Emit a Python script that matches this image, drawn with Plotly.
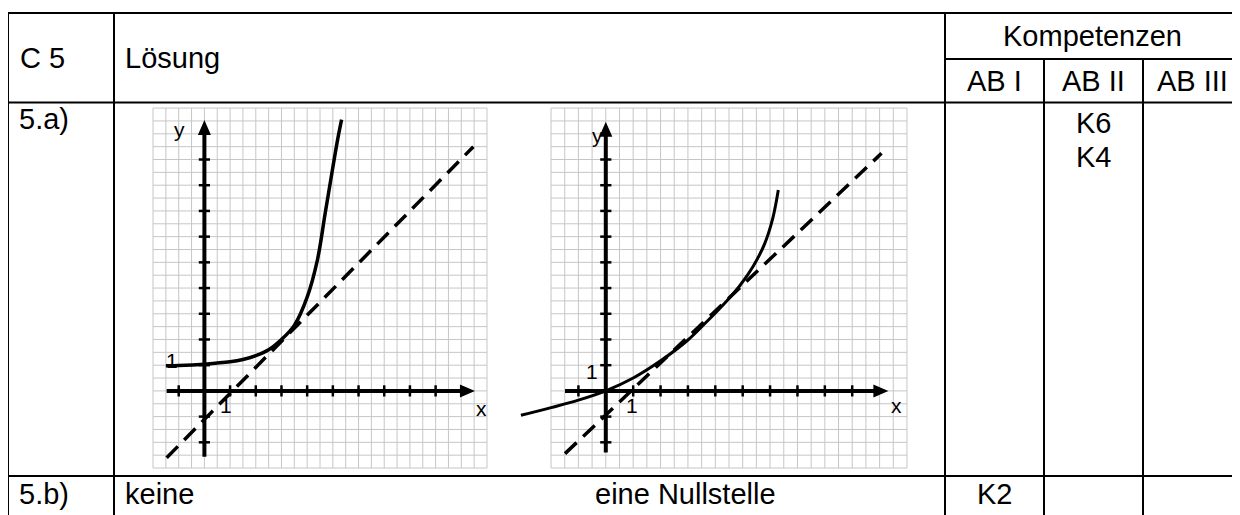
import numpy as np
import plotly.graph_objects as go

# the page places the figure 8 px from the top-left corner (default body margin)
OFF = 8
W, H = 1240 - OFF, 515 - OFF

# ---------------- data ----------------
# left panel: curve and dashed tangent line (units of the drawn coordinate system)
LEFT_CURVE_X = [-1.5, -1.0, 0.0, 1.0, 1.5, 2.0, 2.5, 3.0, 3.5, 4.0, 4.4, 4.7, 5.0, 5.2, 5.34]
LEFT_CURVE_Y = [0.98, 0.99, 1.04, 1.13, 1.22, 1.37, 1.60, 2.00, 2.55, 3.65, 5.10, 6.90, 8.70, 9.85, 10.55]
LEFT_LINE_X = [-1.47, 10.47]
LEFT_LINE_Y = [-2.60, 9.50]

# right panel
RIGHT_CURVE_X = [-3.1, -2.0, -1.0, 0.0, 1.0, 2.0, 3.0, 3.6, 4.4, 4.9, 5.4, 5.8, 6.1, 6.3]
RIGHT_CURVE_Y = [-0.95, -0.65, -0.36, 0.0, 0.50, 1.17, 1.98, 2.60, 3.48, 4.10, 4.88, 5.72, 6.72, 7.81]
RIGHT_LINE_X = [-1.49, 10.07]
RIGHT_LINE_Y = [-2.44, 9.24]

# axis extents (start, arrow tip) and tick positions
LEFT_XAXIS = [-1.47, 10.53]
LEFT_YAXIS = [-2.56, 10.54]
RIGHT_XAXIS = [-1.49, 10.32]
RIGHT_YAXIS = [-2.40, 10.47]
X_TICKS = [-1, 1, 2, 3, 4, 5, 6, 7, 8, 9]
Y_TICKS = [-2, -1, 1, 2, 3, 4, 5, 6, 7, 8, 9]

# grid extent (units) and spacing
GRID_X = [-2, 11]
GRID_Y = [-3, 11]
GRID_STEP = 0.5

# axis labels inside the panels: (text, x, y)
LEFT_LABELS = [("y", -0.95, 10.15), ("x", 10.79, -0.68), ("1", -1.27, 1.2), ("1", 0.84, -0.55)]
RIGHT_LABELS = [("y", -0.31, 9.95), ("x", 10.62, -0.55), ("1", -0.51, 0.75), ("1", 0.95, -0.55)]

# table texts: (text, x_px, y_px, anchor)
TABLE_TEXT = [
    ("C 5", 18, 58, "left"),
    ("Lösung", 123, 58, "left"),
    ("Kompetenzen", 1092, 36, "center"),
    ("AB I", 994, 81, "center"),
    ("AB II", 1093, 81, "center"),
    ("AB III", 1192, 81, "center"),
    ("5.a)", 17, 119, "left"),
    ("K6", 1093, 123, "center"),
    ("K4", 1093, 157, "center"),
    ("5.b)", 17, 494, "left"),
    ("keine", 123, 494, "left"),
    ("eine Nullstelle", 593, 494, "left"),
    ("K2", 994, 494, "center"),
]

# table rules in pixels: horizontal (y, x0, x1), vertical (x, y0, y1)
H_RULES = [(13, 8, 1240), (59, 945, 1240), (102.5, 8, 1240), (476, 8, 1240)]
V_RULES = [(8, 13, 515), (114, 13, 515), (945, 13, 515), (1044, 59, 515), (1143, 59, 515)]

# panel geometry: origin in px, px per unit, axis ranges
PANELS = {
    "left": dict(ox=204.4, oy=390.9, ux=25.69, uy=25.71, xr=(-2.2, 11.2), yr=(-3.2, 11.2), ax="x", ay="y"),
    "right": dict(ox=605.8, oy=390.9, ux=27.38, uy=25.71, xr=(-3.3, 11.2), yr=(-3.2, 11.2), ax="x2", ay="y2"),
}

FONT = "Liberation Sans, Arial, Helvetica, sans-serif"
GRID_COLOR = "#c6c6c6"

fig = go.Figure()
shapes = []
annotations = []


def px2paper_x(px):
    return (px - OFF) / W


def px2paper_y(py):
    return 1 - (py - OFF) / H


def add_panel(p, curve_x, curve_y, line_x, line_y, xaxis_ext, yaxis_ext, labels, curve_w):
    xa, ya = p["ax"], p["ay"]
    # grid lines
    gx, gy = [], []
    for v in np.arange(GRID_X[0], GRID_X[1] + 1e-9, GRID_STEP):
        gx += [v, v, None]
        gy += [GRID_Y[0], GRID_Y[1], None]
    for v in np.arange(GRID_Y[0], GRID_Y[1] + 1e-9, GRID_STEP):
        gx += [GRID_X[0], GRID_X[1], None]
        gy += [v, v, None]
    fig.add_trace(go.Scatter(x=gx, y=gy, mode="lines", line=dict(color=GRID_COLOR, width=1),
                             xaxis=xa, yaxis=ya, hoverinfo="skip", showlegend=False))
    # dashed line
    fig.add_trace(go.Scatter(x=line_x, y=line_y, mode="lines",
                             line=dict(color="black", width=3.5, dash="16px,9px"),
                             xaxis=xa, yaxis=ya, showlegend=False))
    # curve
    fig.add_trace(go.Scatter(x=curve_x, y=curve_y, mode="lines",
                             line=dict(color="black", width=curve_w, shape="spline", smoothing=1.0),
                             xaxis=xa, yaxis=ya, showlegend=False))
    # axes with arrowheads
    L, hw = 15.0, 6.5
    xbase = xaxis_ext[1] - L / p["ux"]
    ybase = yaxis_ext[1] - L / p["uy"]
    fig.add_trace(go.Scatter(x=[xaxis_ext[0], xbase + 0.05], y=[0, 0], mode="lines",
                             line=dict(color="black", width=4), xaxis=xa, yaxis=ya, showlegend=False))
    fig.add_trace(go.Scatter(x=[0, 0], y=[yaxis_ext[0], ybase + 0.05], mode="lines",
                             line=dict(color="black", width=4), xaxis=xa, yaxis=ya, showlegend=False))
    shapes.append(dict(type="path", xref=xa, yref=ya, fillcolor="black", line=dict(width=0),
                       path=f"M {xbase},{-hw / p['uy']} L {xbase},{hw / p['uy']} L {xaxis_ext[1]},0 Z"))
    shapes.append(dict(type="path", xref=xa, yref=ya, fillcolor="black", line=dict(width=0),
                       path=f"M {-hw / p['ux']},{ybase} L {hw / p['ux']},{ybase} L 0,{yaxis_ext[1]} Z"))
    # ticks
    fig.add_trace(go.Scatter(x=X_TICKS, y=[0] * len(X_TICKS), mode="markers",
                             marker=dict(symbol="line-ns", size=8, line=dict(color="black", width=2.5)),
                             xaxis=xa, yaxis=ya, showlegend=False, cliponaxis=False))
    fig.add_trace(go.Scatter(x=[0] * len(Y_TICKS), y=Y_TICKS, mode="markers",
                             marker=dict(symbol="line-ew", size=8, line=dict(color="black", width=2.5)),
                             xaxis=xa, yaxis=ya, showlegend=False, cliponaxis=False))
    for t, x, y in labels:
        annotations.append(dict(text=t, x=x, y=y, xref=xa, yref=ya, showarrow=False,
                                font=dict(family=FONT, size=21, color="black"),
                                xanchor="center", yanchor="middle"))


add_panel(PANELS["left"], LEFT_CURVE_X, LEFT_CURVE_Y, LEFT_LINE_X, LEFT_LINE_Y,
          LEFT_XAXIS, LEFT_YAXIS, LEFT_LABELS, 3.5)
add_panel(PANELS["right"], RIGHT_CURVE_X, RIGHT_CURVE_Y, RIGHT_LINE_X, RIGHT_LINE_Y,
          RIGHT_XAXIS, RIGHT_YAXIS, RIGHT_LABELS, 3.0)

axis_layout = {}
for name, p in PANELS.items():
    x0 = p["ox"] + p["xr"][0] * p["ux"]
    x1 = p["ox"] + p["xr"][1] * p["ux"]
    ytop = p["oy"] - p["yr"][1] * p["uy"]
    ybot = p["oy"] - p["yr"][0] * p["uy"]
    suffix = "" if p["ax"] == "x" else p["ax"][1:]
    common = dict(showgrid=False, zeroline=False, showticklabels=False, ticks="", showline=False,
                  fixedrange=True)
    axis_layout["xaxis" + suffix] = dict(domain=[px2paper_x(x0), px2paper_x(x1)], range=list(p["xr"]),
                                         anchor="y" + suffix, **common)
    axis_layout["yaxis" + suffix] = dict(domain=[px2paper_y(ybot), px2paper_y(ytop)], range=list(p["yr"]),
                                         anchor="x" + suffix, **common)

for y, x0, x1 in H_RULES:
    shapes.append(dict(type="line", xref="paper", yref="paper", x0=px2paper_x(x0), x1=px2paper_x(x1),
                       y0=px2paper_y(y), y1=px2paper_y(y), line=dict(color="black", width=2)))
for x, y0, y1 in V_RULES:
    shapes.append(dict(type="line", xref="paper", yref="paper", x0=px2paper_x(x), x1=px2paper_x(x),
                       y0=px2paper_y(y0), y1=px2paper_y(y1), line=dict(color="black", width=2)))

for t, x, y, anc in TABLE_TEXT:
    annotations.append(dict(text=t, x=px2paper_x(x), y=px2paper_y(y), xref="paper", yref="paper",
                            showarrow=False, xanchor=anc, yanchor="middle",
                            font=dict(family=FONT, size=29, color="black")))

fig.update_layout(width=W, height=H, margin=dict(l=0, r=0, t=0, b=0),
                  paper_bgcolor="white", plot_bgcolor="rgba(0,0,0,0)",
                  showlegend=False, shapes=shapes, annotations=annotations, **axis_layout)

fig.write_html("out.html", config={"displayModeBar": False})
